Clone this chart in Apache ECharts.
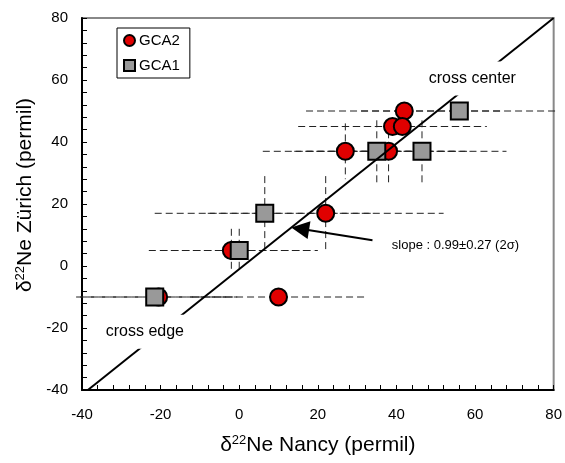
<!DOCTYPE html>
<html lang="en" style="height: 100%">
    <head>
        <meta charset="utf-8">
        <title>Ne22 Nancy vs Zurich</title>
    </head>
    <body style="height: 100%; margin: 0; background: #fff">
        <div id="container" style="width: 565px; height: 463px"></div>
        <script src="https://cdn.jsdelivr.net/npm/echarts@6/dist/echarts.min.js"></script>
        <script>
            // GCA2 (red circles)
            let gca2X = [42, 39, 41.5, 27, 38, 22, -2, -20.5, 10];
            let gca2Y = [50, 45, 45, 37, 37, 17, 5, -10, -10];
            let gca2XErr = [25, 24, 21, 21, 21, 30, 21, 20, 22];
            let gca2YErr = [0, 0, 0, 9, 10, 12, 7, 1.5, 1.5];

            // GCA1 (grey squares)
            let gca1X = [56, 35, 46.5, 6.5, 0, -21.5];
            let gca1Y = [50, 37, 37, 17, 5, -10];
            let gca1XErr = [25, 21, 21.5, 28, 20, 20];
            let gca1YErr = [0, 10, 10, 12, 7, 1.5];

            // regression line end points
            let fitX = [-38.5, 80];
            let fitY = [-40, 80];

            let xTicks = [-40, -20, 0, 20, 40, 60, 80];
            let yTicks = [-40, -20, 0, 20, 40, 60, 80];

            let notes = [
                { text: "cross center", x: 59.3, y: 60.5, size: 16, bg: true },
                { text: "cross edge", x: -24, y: -21.2, size: 16, bg: true },
                { text: "slope : 0.99\u00b10.27 (2\u03c3)", x: 55, y: 6.7, size: 13, bg: false }
            ];
            let arrowFrom = [33.9, 8.3];
            let arrowTo = [15.5, 12];

            function zip(xs, ys) {
                let out = [];
                for (let i = 0; i < xs.length; i++) {
                    out.push([xs[i], ys[i]]);
                }
                return out;
            }

            function errRows(xs, ys, xe, ye) {
                let out = [];
                for (let i = 0; i < xs.length; i++) {
                    out.push([xs[i], ys[i], xe[i], ye[i]]);
                }
                return out;
            }

            function renderError(params, api) {
                let x = api.value(0);
                let y = api.value(1);
                let xe = api.value(2);
                let ye = api.value(3);
                let style = { stroke: "#222", lineWidth: 1, lineDash: [7, 4], fill: null };
                let left = api.coord([x - xe, y]);
                let right = api.coord([x + xe, y]);
                let children = [{
                    type: "line",
                    shape: { x1: left[0], y1: left[1], x2: right[0], y2: right[1] },
                    style: style
                }];
                if (ye > 0) {
                    let top = api.coord([x, y + ye]);
                    let bottom = api.coord([x, y - ye]);
                    children.push({
                        type: "line",
                        shape: { x1: top[0], y1: top[1], x2: bottom[0], y2: bottom[1] },
                        style: style
                    });
                }
                return { type: "group", children: children };
            }

            let font = "'Liberation Sans', Arial, sans-serif";
            let titleRich = {
                d: { fontSize: 21, fontFamily: font, color: "#000" },
                s: { fontSize: 13, fontFamily: font, color: "#000", verticalAlign: "top", padding: [0, 0, 9, 0] },
                n: { fontSize: 21, fontFamily: font, color: "#000" }
            };

            let chart = echarts.init(document.getElementById("container"), null, { renderer: "canvas" });

            let option = {
                backgroundColor: "#fff",
                animation: false,
                textStyle: { fontFamily: font, color: "#000" },
                grid: {
                    left: 82,
                    right: 10,
                    top: 18,
                    bottom: 73,
                    show: true,
                    borderColor: "#888",
                    borderWidth: 2
                },
                legend: {
                    orient: "vertical",
                    left: 117,
                    top: 28,
                    padding: [5, 10, 5, 6],
                    itemGap: 10,
                    itemWidth: 11,
                    itemHeight: 11,
                    borderColor: "#000",
                    borderWidth: 1,
                    textStyle: { fontSize: 15, color: "#000", fontFamily: font, padding: [0, 0, 0, -1] },
                    data: [
                        { name: "GCA2", icon: "circle" },
                        { name: "GCA1", icon: "rect" }
                    ]
                },
                xAxis: {
                    type: "value",
                    min: xTicks[0],
                    max: xTicks[xTicks.length - 1],
                    interval: 20,
                    name: "{d|\u03b4}{s|22}{n|Ne Nancy (permil)}",
                    nameLocation: "middle",
                    nameGap: 44,
                    nameTextStyle: { rich: titleRich },
                    axisLine: { onZero: false, lineStyle: { color: "#000", width: 2 } },
                    axisTick: { inside: true, length: 5, lineStyle: { color: "#000" } },
                    minorTick: { show: true, splitNumber: 5, length: 5, lineStyle: { color: "#000" } },
                    axisLabel: { fontSize: 15, margin: 17, color: "#000", fontFamily: font },
                    splitLine: { show: false }
                },
                yAxis: {
                    type: "value",
                    min: yTicks[0],
                    max: yTicks[yTicks.length - 1],
                    interval: 20,
                    name: "{d|\u03b4}{s|22}{n|Ne Z\u00fcrich (permil)}",
                    nameLocation: "middle",
                    nameGap: 43,
                    nameRotate: 90,
                    nameTextStyle: { rich: titleRich, padding: [0, 0, 0, 18] },
                    axisLine: { onZero: false, lineStyle: { color: "#000", width: 2 } },
                    axisTick: { inside: true, length: 5, lineStyle: { color: "#000" } },
                    minorTick: { show: true, splitNumber: 5, length: 5, lineStyle: { color: "#000" } },
                    axisLabel: { fontSize: 15, margin: 14, color: "#000", fontFamily: font },
                    splitLine: { show: false }
                },
                series: [
                    {
                        name: "err2",
                        type: "custom",
                        renderItem: renderError,
                        data: errRows(gca2X, gca2Y, gca2XErr, gca2YErr),
                        clip: false,
                        silent: true,
                        z: 1
                    },
                    {
                        name: "err1",
                        type: "custom",
                        renderItem: renderError,
                        data: errRows(gca1X, gca1Y, gca1XErr, gca1YErr),
                        clip: false,
                        silent: true,
                        z: 1
                    },
                    {
                        name: "GCA2",
                        type: "scatter",
                        symbol: "circle",
                        symbolSize: 17,
                        itemStyle: { color: "#e00000", borderColor: "#000", borderWidth: 2, opacity: 1 },
                        data: zip(gca2X, gca2Y),
                        z: 3
                    },
                    {
                        name: "GCA1",
                        type: "scatter",
                        symbol: "rect",
                        symbolSize: 17,
                        itemStyle: { color: "#999", borderColor: "#000", borderWidth: 2, opacity: 1 },
                        data: zip(gca1X, gca1Y),
                        z: 4
                    },
                    {
                        name: "fit",
                        type: "line",
                        data: zip(fitX, fitY),
                        showSymbol: false,
                        symbol: "none",
                        lineStyle: { color: "#000", width: 2 },
                        silent: true,
                        z: 5,
                        markLine: {
                            silent: true,
                            symbol: ["none", "triangle"],
                            symbolSize: 18,
                            label: { show: false },
                            lineStyle: { color: "#000", width: 2, type: "solid", opacity: 1 },
                            itemStyle: { color: "#000" },
                            data: [[{ coord: arrowFrom }, { coord: arrowTo }]]
                        }
                    },
                    {
                        name: "notes",
                        type: "scatter",
                        symbolSize: 0,
                        silent: true,
                        z: 6,
                        itemStyle: { opacity: 1 },
                        data: notes.map(function (n) {
                            return {
                                value: [n.x, n.y],
                                label: {
                                    show: true,
                                    position: "inside",
                                    formatter: n.text,
                                    fontSize: n.size,
                                    fontFamily: font,
                                    color: "#000",
                                    backgroundColor: n.bg ? "#fff" : "transparent",
                                    padding: n.bg ? [9, 4] : 0
                                }
                            };
                        })
                    }
                ]
            };

            chart.setOption(option);
        </script>
    </body>
</html>
